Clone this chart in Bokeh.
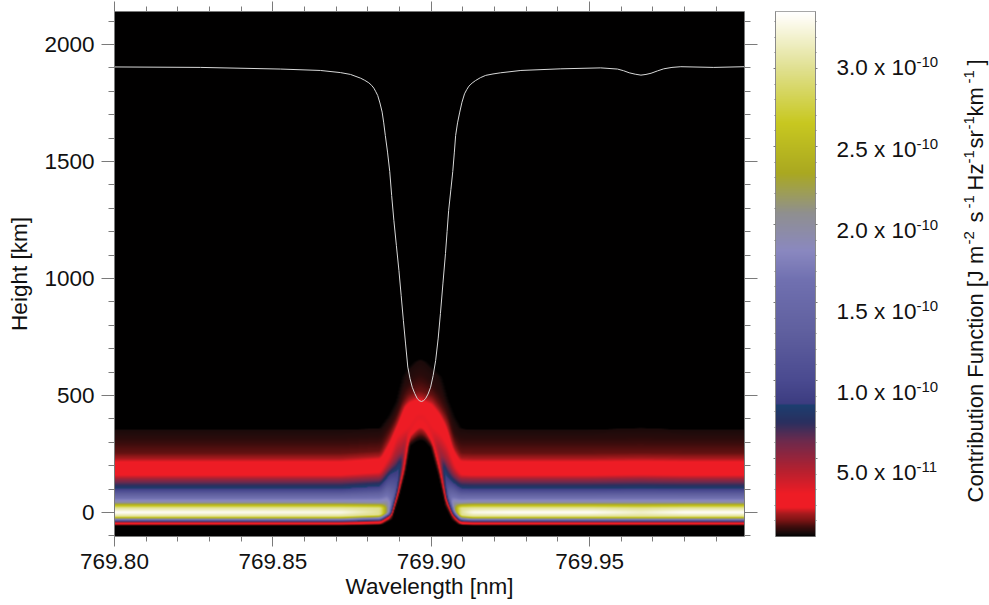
import numpy as np
from math import pi
from bokeh.embed import file_html
from bokeh.resources import INLINE
from bokeh.layouts import row
from bokeh.plotting import figure
from bokeh.models import (Range1d, LinearAxis, FixedTicker, LinearColorMapper, Label,
                          NumeralTickFormatter, CustomJSTickFormatter)

# ---------- chart values ----------
x_major = [769.80, 769.85, 769.90, 769.95]
x_minor = [769.81, 769.82, 769.83, 769.84, 769.86, 769.87, 769.88, 769.89, 769.91, 769.92,
           769.93, 769.94, 769.96, 769.97, 769.98, 769.99]
y_major = [0, 500, 1000, 1500, 2000]
y_minor = [-100, 100, 200, 300, 400, 600, 700, 800, 900, 1100, 1200, 1300, 1400, 1600, 1700,
           1800, 1900, 2100]

# emergent line profile drawn in white (wavelength offset from 769.80 nm, height in km)
line_dw = [0.0000, 0.0272, 0.0524, 0.0650, 0.0713, 0.0745, 0.0777, 0.0790, 0.0803, 0.0812, 0.0819, 0.0825,
           0.0831, 0.0838, 0.0845, 0.0850, 0.0855, 0.0862, 0.0869, 0.0875, 0.0882, 0.0890, 0.0898, 0.0905,
           0.0912, 0.0919, 0.0926, 0.0933, 0.0940, 0.0948, 0.0956, 0.0962, 0.0969,
           0.0976, 0.0982, 0.0990, 0.0998, 0.1006, 0.1014, 0.1022, 0.1029, 0.1037, 0.1045, 0.1050,
           0.1055, 0.1062, 0.1068, 0.1073, 0.1077, 0.1083, 0.1090, 0.1097, 0.1105, 0.1112,
           0.1119, 0.1129, 0.1140, 0.1155, 0.1172, 0.1195, 0.1219, 0.1283, 0.1409, 0.1535, 0.1588, 0.1607,
           0.1625, 0.1644, 0.1662, 0.1678, 0.1694, 0.1714, 0.1734, 0.1760, 0.1788, 0.1892, 0.1989]
line_km = [1904, 1902, 1895, 1889, 1880, 1872, 1856, 1847, 1836, 1825, 1813, 1798,
           1782, 1750, 1711, 1665, 1611, 1540, 1457, 1355, 1248, 1140, 1034, 928,
           821, 720, 621, 572, 535, 508, 486, 478, 474,
           478, 486, 506, 535, 585, 650, 745, 850, 980, 1107, 1200,
           1291, 1380, 1457, 1540, 1611, 1665, 1711, 1753, 1789, 1807,
           1822, 1835, 1846, 1858, 1868, 1874, 1879, 1889, 1896, 1900, 1895, 1888,
           1879, 1873, 1869, 1872, 1877, 1887, 1896, 1902, 1905, 1902, 1905]

# contribution function: heights (km) at which each level is crossed, per wavelength column
col_dw = [0.0000, 0.0714, 0.0840, 0.0871, 0.0892, 0.0913, 0.0929, 0.0950, 0.0966, 0.0982, 0.1003,
          0.1029, 0.1050, 0.1071, 0.1092, 0.1130, 0.1250, 0.1500, 0.1662, 0.1800, 0.1989]
col_peak = [33.6, 33, 30, 17, 11, 5.5, 3.2, 2.9, 2.9, 2.9, 3.2,
            5, 12, 20, 30, 33, 33.6, 33.6, 32, 33.6, 33.6]
levels = [0, 2.4, 2.8, 10, 20, 30, 99, 30, 20, 8.5, 5, 2.75, 1.9, 0.9, 0.4, 0.25, 0]  # 1e-11 units
k00 = [-56, -56, -54, -32,  58, 165, 280, 300, 308, 302, 272, 151,  23, -34, -54, -56, -56, -56, -56, -56, -56]
k01 = [-50, -50, -46, -20,  70, 182, 330, 365, 385, 365, 308, 168,  40, -20, -48, -50, -50, -50, -50, -50, -50]
k1a = [-44, -44, -39, -12,  80, 195, 333, 380, 398, 380, 320, 190,  50, -12, -41, -44, -44, -44, -44, -44, -44]
k02 = [-37, -37, -33,  -8,  95, 235, 336, 395, 410, 395, 335, 225,  70,  -8, -35, -37, -37, -37, -37, -37, -37]
k03 = [-28, -28, -22,   4, 105, 240, 337, 396, 411, 396, 336, 228,  75,  10, -24, -28, -28, -28, -28, -28, -28]
k3a = [-17, -17, -10,   6, 107, 241, 337, 396, 411, 396, 336, 229,  80,  12, -12, -17, -17, -17, -17, -17, -17]
k04 = [  0,   0,   2,   8, 110, 243, 338, 397, 412, 397, 337, 230,  85,  15,   2,   0,   0,   0,   0,   0,   0]
k4a = [ 20,  20,  18,  20, 112, 244, 338, 397, 412, 397, 337, 231,  90,  22,  18,  20,  20,  20,  18,  20,  20]
k05 = [ 42,  42,  40,  42, 115, 246, 339, 398, 413, 398, 338, 232,  95,  40,  40,  42,  42,  42,  42,  42,  42]
k06 = [101, 101, 112, 165, 177, 250, 340, 399, 414, 399, 339, 240, 150, 125, 103, 101, 101, 101, 102, 101, 101]
k07 = [142, 142, 150, 200, 240, 265, 342, 400, 415, 400, 340, 250, 215, 165, 144, 142, 142, 142, 144, 142, 142]
k08 = [160, 160, 172, 243, 325, 350, 365, 415, 425, 415, 365, 335, 290, 205, 162, 160, 160, 160, 162, 160, 160]
k09 = [214, 214, 226, 300, 370, 445, 465, 478, 481, 470, 458, 414, 357, 260, 216, 214, 214, 214, 216, 214, 214]
k10 = [252, 252, 262, 340, 395, 470, 505, 515, 520, 510, 500, 450, 400, 300, 254, 252, 252, 252, 254, 252, 252]
k11 = [318, 318, 326, 385, 445, 530, 555, 585, 592, 580, 550, 510, 450, 345, 320, 318, 318, 318, 320, 318, 318]
k12 = [352, 352, 358, 415, 471, 578, 614, 642, 653, 642, 614, 578, 479, 407, 357, 352, 352, 352, 360, 352, 352]
k13 = [354, 354, 360, 417, 473, 580, 616, 644, 655, 644, 616, 580, 481, 409, 359, 354, 354, 354, 362, 354, 354]
knot_rows = [k00, k01, k1a, k02, k03, k3a, k04, k4a, k05, k06, k07, k08, k09, k10, k11, k12, k13]

# colour bar
cbar_major = [5, 10, 15, 20, 25, 30]       # 1e-11 units
cbar_minor = [1, 2, 3, 4, 6, 7, 8, 9, 11, 12, 13, 14, 16, 17, 18, 19, 21, 22, 23, 24, 26, 27, 28, 29, 31, 32, 33]
cbar_text = ["5.0 x 10", "1.0 x 10", "1.5 x 10", "2.0 x 10", "2.5 x 10", "3.0 x 10"]
cbar_exp = ["-11", "-10", "-10", "-10", "-10", "-10"]
cbar_label_drop = [15, 13, 10, 7, 4, 0]    # the reference's labels sit below their ticks
cmap_vals = [0, 0.2, 0.58, 1.03, 1.47, 1.86, 2.75, 4.23, 6.15, 7.3, 8.46, 8.49, 10, 13.2, 16.4,
             18.3, 20.7, 22.2, 23.3, 26.5, 30, 33.1, 33.65]
cmap_cols = ["#000000", "#160a0a", "#3a0c0c", "#7a1414", "#a81a1e", "#ee1c25", "#ee1c25", "#b5202f",
             "#6b2a4d", "#2a2f5f", "#1c3f70", "#3c3c80", "#4a4a90", "#60609f", "#7070b0", "#8a88c0",
             "#8f8f90", "#9f9f50", "#aaa820", "#c8c820", "#e0e090", "#fdfbf0", "#ffffff"]
VMAX = 33.65
X0, X1 = 769.80, 769.9989
Y0, Y1 = -103.0, 2141.0

# ---------- build palette ----------
def hex2rgb(c):
    return [int(c[i:i + 2], 16) for i in (1, 3, 5)]
rgb = np.array([hex2rgb(c) for c in cmap_cols], float)
pal_v = (np.arange(2048) + 0.5) / 2048 * VMAX
palette = ["#%02x%02x%02x" % tuple(int(round(np.interp(v, cmap_vals, rgb[:, i]))) for i in range(3))
           for v in pal_v]
mapper = LinearColorMapper(palette=palette, low=0, high=VMAX)

# ---------- build the field from the read table ----------
NX, NY = 630, 525
xs = (np.arange(NX) + 0.5) / NX * (X1 - X0)
ys = Y0 + (np.arange(NY) + 0.5) / NY * (Y1 - Y0)
H = np.array([np.interp(xs, col_dw, r) for r in knot_rows], float)
P = np.interp(xs, col_dw, col_peak)
field = np.zeros((NY, NX))
for i in range(NX):
    vals = np.minimum(levels, P[i])
    field[:, i] = np.interp(ys, H[:, i], vals, left=0, right=0)
kernel = np.ones(5) / 5
pad = np.pad(field, ((0, 0), (2, 2)), mode="edge")
field = np.array([np.convolve(r, kernel, mode="valid") for r in pad])

FONT = "Liberation Sans"
FS = "22.5px"
TXT = "#111111"
GRAY = "#7a7a7a"

# ---------- main plot ----------
p = figure(width=760, height=605, x_range=Range1d(X0, X1), y_range=Range1d(Y0, Y1),
           toolbar_location=None, output_backend="svg",
           min_border_left=114, min_border_right=16, min_border_top=11, min_border_bottom=69)
p.grid.visible = False
p.outline_line_color = None
p.image(image=[field], x=X0, y=Y0, dw=X1 - X0, dh=Y1 - Y0, color_mapper=mapper)
p.line(x=[X0 + d for d in line_dw], y=line_km, line_color="#d8d8d8", line_width=1)

xt = FixedTicker(ticks=x_major, minor_ticks=x_minor)
yt = FixedTicker(ticks=y_major, minor_ticks=y_minor)
blank = CustomJSTickFormatter(code="return ''")

xa = p.xaxis[0]
xa.ticker = xt
xa.formatter = NumeralTickFormatter(format="0.00")
xa.axis_label = "Wavelength [nm]"
ya = p.yaxis[0]
ya.ticker = yt
ya.axis_label = "Height [km]"
for ax in (xa, ya):
    ax.axis_label_text_font = FONT
    ax.axis_label_text_font_size = FS
    ax.axis_label_text_font_style = "normal"
    ax.axis_label_text_color = TXT
    ax.major_label_text_font = FONT
    ax.major_label_text_font_size = FS
    ax.major_label_text_color = TXT
xa.major_label_standoff = 7
xa.axis_label_standoff = 2
ya.major_label_standoff = 7
ya.axis_label_standoff = 9
ya.major_label_orientation = "horizontal"

xa.major_tick_out, xa.major_tick_in, xa.minor_tick_out, xa.minor_tick_in = 10, 0, 5, 0
ya.major_tick_out, ya.major_tick_in, ya.minor_tick_out, ya.minor_tick_in = 13, 0, 6, 0

top = LinearAxis(ticker=xt, formatter=blank, major_tick_out=10, major_tick_in=0,
                 minor_tick_out=5, minor_tick_in=0, major_label_standoff=0,
                 major_label_text_font_size="0px")
right = LinearAxis(ticker=yt, formatter=blank, major_tick_out=13, major_tick_in=0,
                   minor_tick_out=6, minor_tick_in=0, major_label_standoff=0,
                   major_label_text_font_size="0px")
p.add_layout(top, "above")
p.add_layout(right, "right")
for ax in (xa, ya, top, right):
    ax.axis_line_color = GRAY
    ax.major_tick_line_color = GRAY
    ax.minor_tick_line_color = GRAY
    ax.axis_line_width = 1
    ax.major_tick_line_width = 1
    ax.minor_tick_line_width = 1

# ---------- colour bar ----------
c = figure(width=58, height=605, x_range=Range1d(0, 1), y_range=Range1d(0, VMAX),
           toolbar_location=None, output_backend="svg",
           min_border_left=15, min_border_right=3, min_border_top=11, min_border_bottom=69,
           x_axis_type=None, y_axis_type=None)
c.grid.visible = False
c.outline_line_color = "#8a8a8a"
c.outline_line_width = 1
grad = ((np.arange(525) + 0.5) / 525 * VMAX).reshape(-1, 1)
c.image(image=[grad], x=0, y=0, dw=1, dh=VMAX, color_mapper=mapper)
ct = FixedTicker(ticks=cbar_major, minor_ticks=cbar_minor)
for side in ("left", "right"):
    a = LinearAxis(ticker=ct, formatter=blank, major_tick_out=2, major_tick_in=0,
                   minor_tick_out=1, minor_tick_in=0, major_label_standoff=0,
                   major_label_text_font_size="0px", axis_line_color="#8a8a8a",
                   major_tick_line_color=GRAY, minor_tick_line_color=GRAY)
    c.add_layout(a, side)

# ---------- text panel beside the colour bar (shares the colour bar's value scale) ----------
t = figure(width=171, height=605, x_range=Range1d(0, 171), y_range=Range1d(0, VMAX),
           toolbar_location=None, output_backend="svg",
           min_border_left=0, min_border_right=0, min_border_top=11, min_border_bottom=69,
           x_axis_type=None, y_axis_type=None)
t.grid.visible = False
t.outline_line_color = None

for v, s, e, d in zip(cbar_major, cbar_text, cbar_exp, cbar_label_drop):
    t.add_layout(Label(x=18, y=v, text=s, y_offset=1 - d,
                       text_font=FONT, text_font_size=FS, text_color=TXT,
                       text_baseline="alphabetic", text_align="left"))
    t.add_layout(Label(x=98, y=v, text=e, y_offset=6 - d,
                       text_font=FONT, text_font_size="15px", text_color=TXT,
                       text_baseline="alphabetic", text_align="left"))

# rotated unit label, built from normal and raised pieces
BASE_X = 157   # in the panel
SUP_X = 150
pieces = [("Contribution Function [J m", 34, 22, BASE_X), ("-2", 292, 15, SUP_X),
          ("s", 314, 22, BASE_X), ("-1", 328, 15, SUP_X), ("Hz", 346, 22, BASE_X),
          ("-1", 373, 15, SUP_X), ("sr", 388, 22, BASE_X), ("-1", 407, 15, SUP_X),
          ("km", 420, 22, BASE_X), ("-1", 453, 15, SUP_X), ("]", 471, 22, BASE_X)]
for text, up, size, bx in pieces:
    t.add_layout(Label(x=bx, y=0, text=text, y_offset=up,
                       angle=pi / 2, text_font=FONT, text_font_size=f"{size}px", text_color=TXT,
                       text_baseline="alphabetic", text_align="left"))

layout = row(p, c, t)
open("out.html", "w").write(file_html(layout, INLINE))
